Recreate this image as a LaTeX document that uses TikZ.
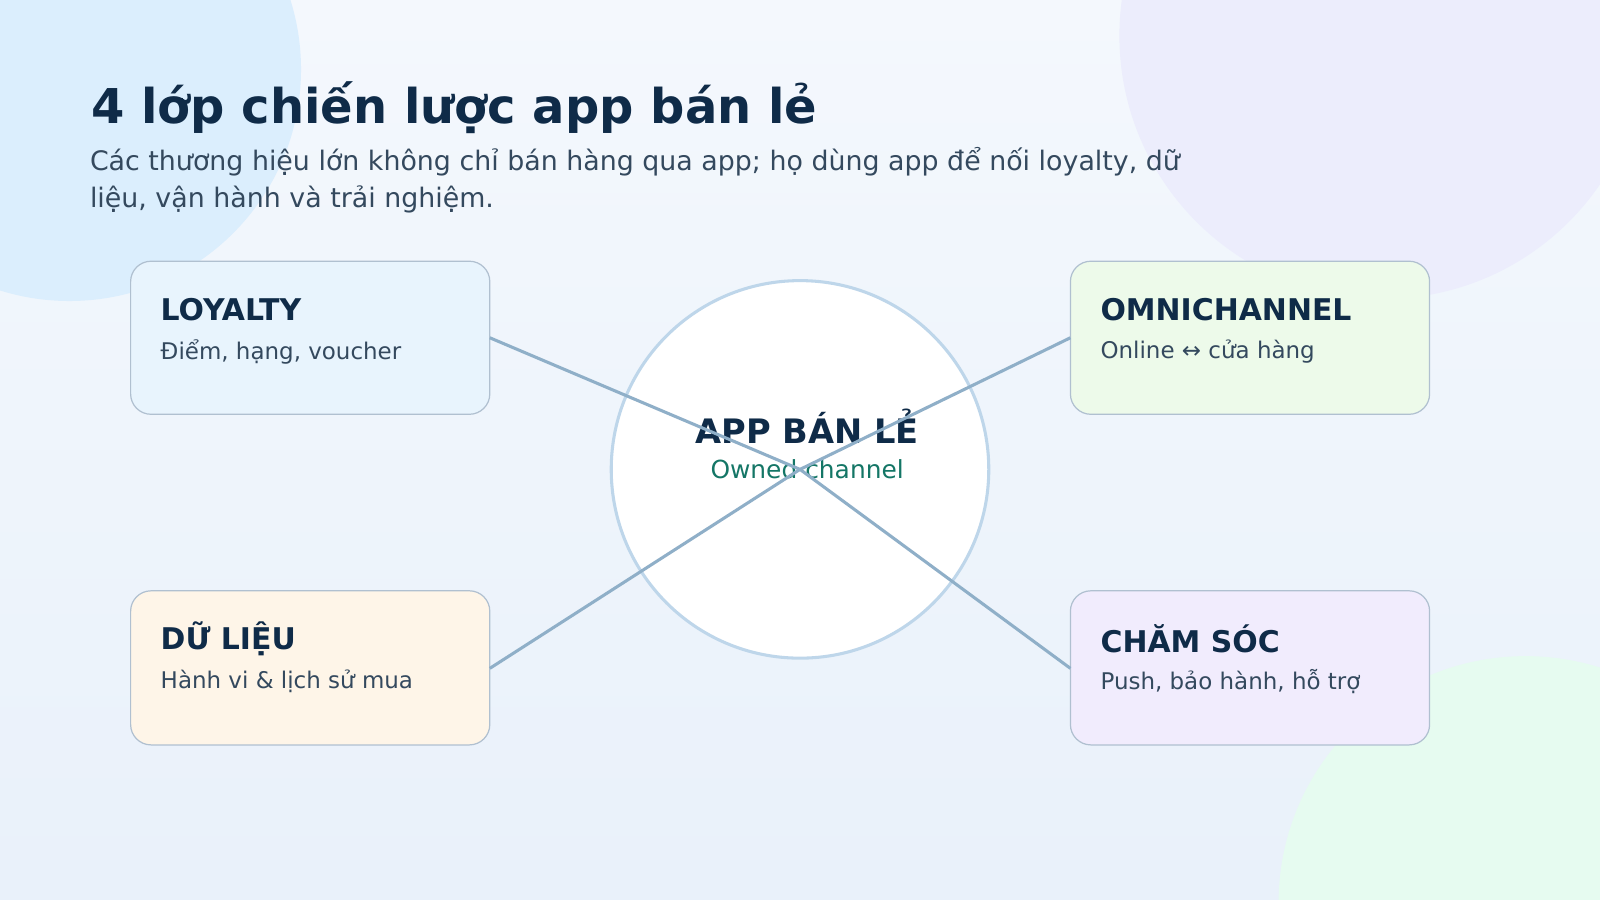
\documentclass[tikz,border=0pt]{standalone}
\usepackage{fontspec}
\setmainfont{DejaVu Sans}
\begin{document}
\begin{tikzpicture}[x=1pt,y=-1pt,
  box/.style={draw={rgb,255:red,176;green,192;blue,208},line width=1.2pt,rounded corners=20pt},
  hd/.style={anchor=west,font=\bfseries\fontsize{29.3}{31}\selectfont,text=navy},
  sb/.style={anchor=west,font=\fontsize{22.5}{25}\selectfont,text=sub},
  link/.style={draw=lnk,line width=3pt}]
\definecolor{navy}{HTML}{0F2B48}
\definecolor{sub}{HTML}{34495E}
\definecolor{lnk}{HTML}{8FAFC8}
\definecolor{bgt}{HTML}{F4F8FD}
\definecolor{bgb}{HTML}{E9F1FA}
\useasboundingbox (0,0) rectangle (1568,882);
\shade[top color=bgt,bottom color=bgb] (0,0) rectangle (1568,882);
\begin{scope}
\clip (0,0) rectangle (1568,882);
\fill[color={rgb,255:red,219;green,238;blue,253}] (68,68) circle (227);
\fill[color={rgb,255:red,236;green,237;blue,252}] (1355,35) circle (258);
\fill[color={rgb,255:red,230;green,251;blue,240}] (1495,885) circle (242);
\end{scope}
\node[anchor=west,font=\bfseries\fontsize{47}{50}\selectfont,text=navy] (title) at (86,106) {4 lớp chiến lược app bán lẻ};
\node[anchor=north west,align=left,inner sep=0pt,font=\fontsize{26.3}{36}\selectfont,text=sub] (subt) at (88,144) {Các thương hiệu lớn không chỉ bán hàng qua app; họ dùng app để nối loyalty, dữ\\liệu, vận hành và trải nghiệm.};
\node[circle,draw={rgb,255:red,190;green,214;blue,234},line width=3pt,fill=white,minimum size=370pt,inner sep=0pt] (c) at (784,460) {};
\node[font=\bfseries\fontsize{33}{36}\selectfont,text=navy] (ct) at (791,418) {APP BÁN LẺ};
\node[font=\fontsize{24.4}{27}\selectfont,text={rgb,255:red,20;green,118;blue,102}] (cs) at (791,460) {Owned channel};
\draw[box,fill={rgb,255:red,232;green,244;blue,253}] (128,256) rectangle (480,406);
\draw[box,fill={rgb,255:red,237;green,250;blue,234}] (1049,256) rectangle (1401,406);
\draw[box,fill={rgb,255:red,254;green,245;blue,232}] (128,579) rectangle (480,730);
\draw[box,fill={rgb,255:red,241;green,236;blue,253}] (1049,579) rectangle (1401,730);
\coordinate (l) at (480,331); \coordinate (o) at (1049,331);
\coordinate (d) at (480,655); \coordinate (h) at (1049,655);
\node[hd] (l1) at (154,303) {LOYALTY};
\node[sb] (l2) at (154,345) {Điểm, hạng, voucher};
\node[hd] (o1) at (1075,303) {OMNICHANNEL};
\node[sb] (o2) at (1075,345) {Online ↔ cửa hàng};
\node[hd] (d1) at (154,626) {DỮ LIỆU};
\node[sb] (d2) at (154,668) {Hành vi \& lịch sử mua};
\node[hd] (h1) at (1075,626) {CHĂM SÓC};
\node[sb] (h2) at (1075,668) {Push, bảo hành, hỗ trợ};
\draw[link] (l) -- (c.center) -- (h);
\draw[link] (o) -- (c.center) -- (d);
\end{tikzpicture}
\end{document}
